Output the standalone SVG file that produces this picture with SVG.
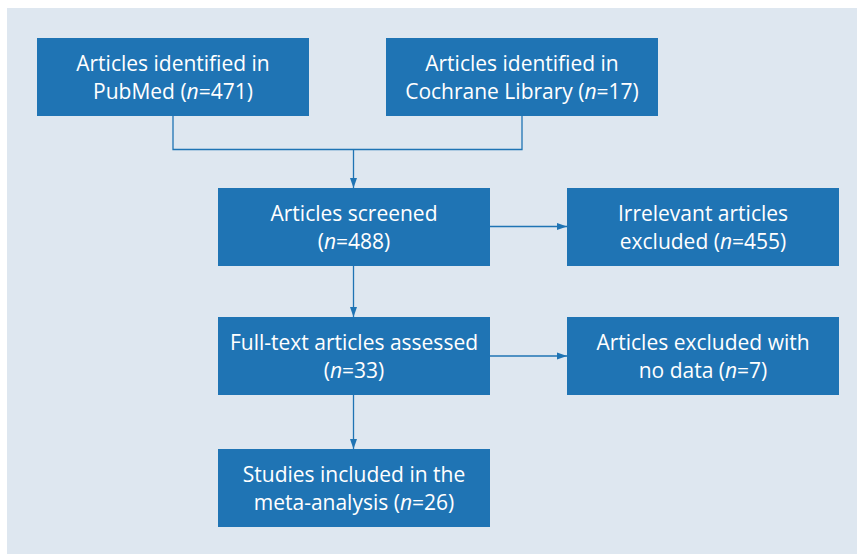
<svg xmlns="http://www.w3.org/2000/svg" width="857" height="554" viewBox="0 0 857 554">
<defs>
<style>
.box{fill:#1f74b4}
.t{font-family:"Open Sans","Noto Sans","Liberation Sans",sans-serif;font-size:21px;fill:#ffffff;text-anchor:middle}
.c{fill:none;stroke:#1f74b4;stroke-width:1.3}
</style>
<marker id="ah" viewBox="0 0 10 10" refX="10" refY="5" markerWidth="10" markerHeight="10" markerUnits="userSpaceOnUse" orient="auto">
<path d="M0,1.5 L10,5 L0,8.5 Z" fill="#1f74b4"/>
</marker>
</defs>
<rect x="7" y="8" width="850" height="546" fill="#dee7f0"/>
<g id="connectors">
<path class="c" d="M173,116 V149.5 H522 V116"/>
<path class="c" d="M353.5,149.5 V188" marker-end="url(#ah)"/>
<path class="c" d="M490,226.5 H567" marker-end="url(#ah)"/>
<path class="c" d="M353.5,266 V317" marker-end="url(#ah)"/>
<path class="c" d="M490,356 H567" marker-end="url(#ah)"/>
<path class="c" d="M353.5,395 V449" marker-end="url(#ah)"/>
</g>
<g id="pubmed">
<rect class="box" x="37" y="38" width="272" height="78"/>
<text class="t" x="173" y="71">Articles identified in</text>
<text class="t" x="173" y="99">PubMed (<tspan font-style="italic">n</tspan>=471)</text>
</g>
<g id="cochrane">
<rect class="box" x="386" y="38" width="272" height="78"/>
<text class="t" x="522" y="71">Articles identified in</text>
<text class="t" x="522" y="99">Cochrane Library (<tspan font-style="italic">n</tspan>=17)</text>
</g>
<g id="screened">
<rect class="box" x="218" y="188" width="272" height="78"/>
<text class="t" x="354" y="221">Articles screened</text>
<text class="t" x="354" y="249">(<tspan font-style="italic">n</tspan>=488)</text>
</g>
<g id="irrelevant">
<rect class="box" x="567" y="188" width="272" height="78"/>
<text class="t" x="703" y="221">Irrelevant articles</text>
<text class="t" x="703" y="249">excluded (<tspan font-style="italic">n</tspan>=455)</text>
</g>
<g id="fulltext">
<rect class="box" x="218" y="317" width="272" height="78"/>
<text class="t" x="354" y="350">Full-text articles assessed</text>
<text class="t" x="354" y="378">(<tspan font-style="italic">n</tspan>=33)</text>
</g>
<g id="nodata">
<rect class="box" x="567" y="317" width="272" height="78"/>
<text class="t" x="703" y="350">Articles excluded with</text>
<text class="t" x="703" y="378">no data (<tspan font-style="italic">n</tspan>=7)</text>
</g>
<g id="studies">
<rect class="box" x="218" y="449" width="272" height="78"/>
<text class="t" x="354" y="482">Studies included in the</text>
<text class="t" x="354" y="510">meta-analysis (<tspan font-style="italic">n</tspan>=26)</text>
</g>
</svg>
